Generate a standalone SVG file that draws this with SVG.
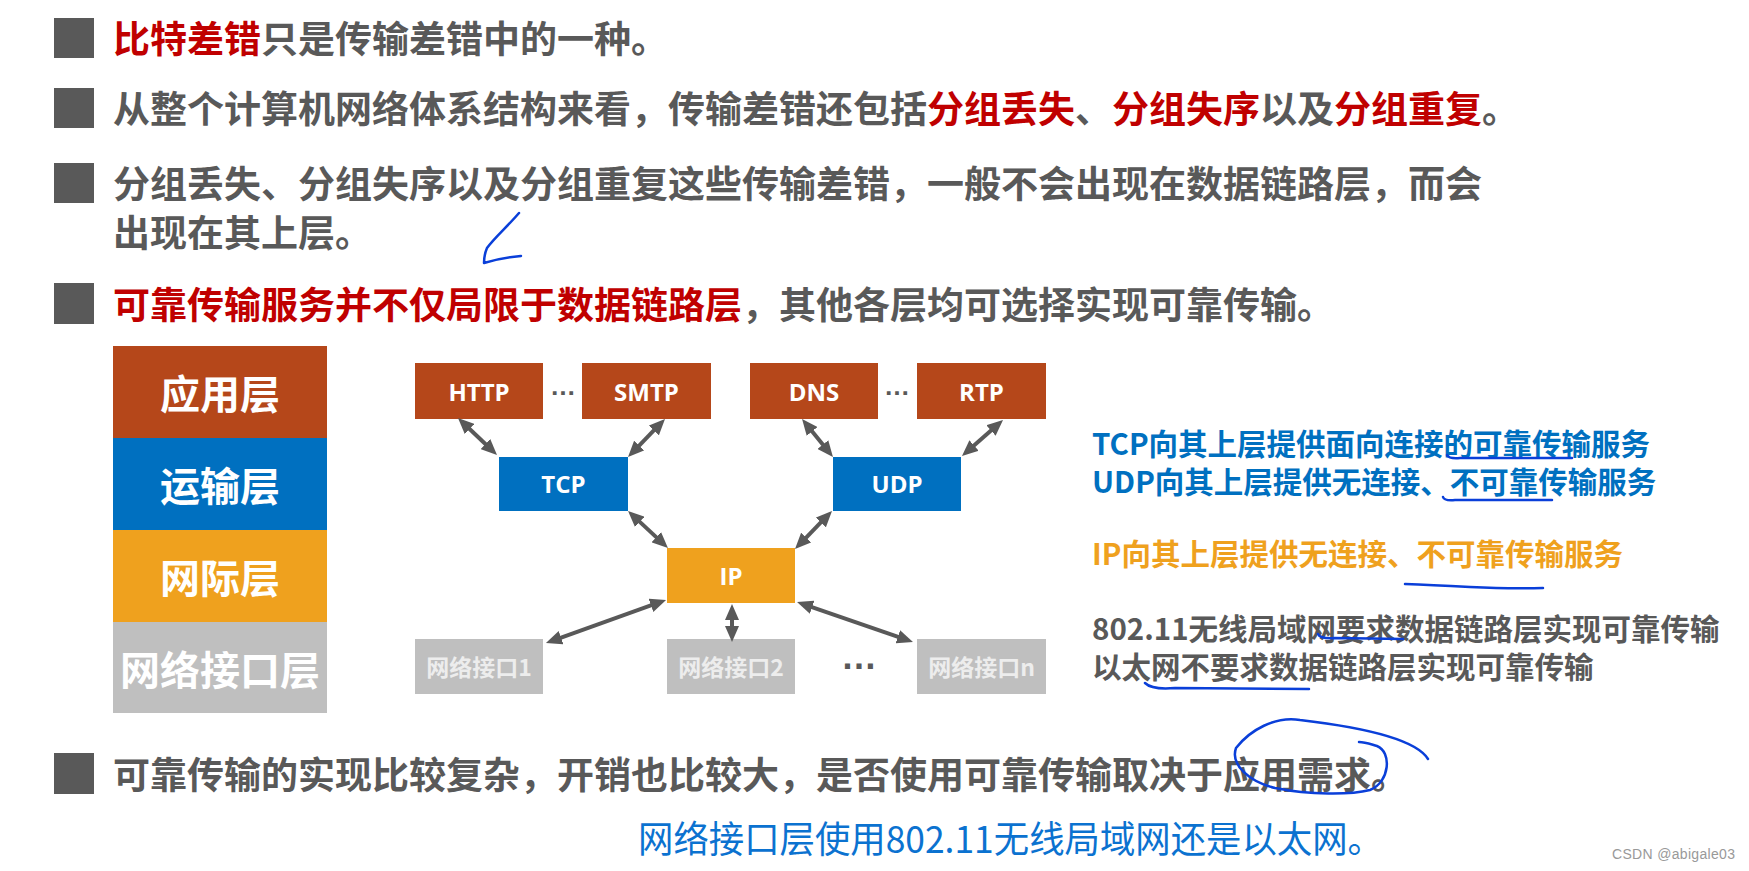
<svg xmlns="http://www.w3.org/2000/svg" width="1749" height="871" viewBox="0 0 1749 871">
  <style>
    .bullet { fill: #595959; }
    .main { font-family: "Liberation Sans", "Noto Sans CJK SC", sans-serif; font-size: 37px; font-weight: 700; fill: #595959; }
    .red { fill: #C00000; }
    .layer { font-family: "Noto Sans CJK SC", sans-serif; font-size: 40px; font-weight: 700; fill: #FFFFFF; text-anchor: middle; }
    .proto { font-family: "Open Sans", "Noto Sans", sans-serif; font-size: 24px; font-weight: 700; fill: #FFFFFF; text-anchor: middle; }
    .ifc { font-family: "Noto Sans CJK SC", sans-serif; font-size: 23px; font-weight: 700; fill: #EDEDED; text-anchor: middle; }
    .side { font-family: "Noto Sans CJK SC", sans-serif; font-size: 29.5px; font-weight: 700; }
    .dots { font-family: "Liberation Sans", sans-serif; font-weight: 700; fill: #595959; text-anchor: middle; }
    .conn line { stroke: #595959; stroke-width: 4; marker-start: url(#ah); marker-end: url(#ah); }
    .ink { fill: none; stroke: #0A3FD9; stroke-width: 2.5; stroke-linecap: round; stroke-linejoin: round; }
    .app { fill: #B5471A; }
    .tra { fill: #0070C0; }
    .net { fill: #EFA11E; }
    .nif { fill: #BFBFBF; }
  </style>
  <defs>
    <marker id="ah" viewBox="0 0 16 14" markerWidth="16" markerHeight="14" refX="8" refY="7" orient="auto-start-reverse" markerUnits="userSpaceOnUse">
      <path d="M0,0 L16,7 L0,14 z" fill="#595959"/>
    </marker>
  </defs>
  <rect width="1749" height="871" fill="#FFFFFF"/>

  <!-- bullet points -->
  <g id="bullets">
    <rect class="bullet" x="54" y="18" width="40" height="40"/>
    <rect class="bullet" x="54" y="88" width="40" height="40"/>
    <rect class="bullet" x="54" y="163" width="40" height="40"/>
    <rect class="bullet" x="54" y="283" width="40" height="41"/>
    <rect class="bullet" x="54" y="753" width="40" height="41"/>
  </g>
  <g id="text-lines">
    <text class="main" x="113" y="52.5"><tspan class="red">比特差错</tspan>只是传输差错中的一种。</text>
    <text class="main" x="113" y="123">从整个计算机网络体系结构来看，传输差错还包括<tspan class="red">分组丢失</tspan>、<tspan class="red">分组失序</tspan>以及<tspan class="red">分组重复</tspan>。</text>
    <text class="main" x="113" y="198">分组丢失、分组失序以及分组重复这些传输差错，一般不会出现在数据链路层，而会<tspan x="113" dy="48.5">出现在其上层。</tspan></text>
    <text class="main" x="113" y="319"><tspan class="red">可靠传输服务并不仅局限于数据链路层</tspan>，其他各层均可选择实现可靠传输。</text>
    <text class="main" x="113" y="788.5">可靠传输的实现比较复杂，开销也比较大，是否使用可靠传输取决于应用需求。</text>
  </g>

  <!-- layer stack -->
  <g id="layer-app"><rect class="app" x="113" y="346" width="214" height="92"/><text class="layer" x="220" y="409">应用层</text></g>
  <g id="layer-transport"><rect class="tra" x="113" y="438" width="214" height="92"/><text class="layer" x="220" y="500.5">运输层</text></g>
  <g id="layer-internet"><rect class="net" x="113" y="530" width="214" height="92"/><text class="layer" x="220" y="593">网际层</text></g>
  <g id="layer-netif"><rect class="nif" x="113" y="622" width="214" height="91"/><text class="layer" x="220" y="685" fill="#F2F2F2">网络接口层</text></g>

  <!-- protocol nodes -->
  <g id="node-http"><rect class="app" x="415" y="363" width="128" height="56"/><text class="proto" x="479" y="401">HTTP</text></g>
  <g id="node-smtp"><rect class="app" x="582" y="363" width="129" height="56"/><text class="proto" x="646.5" y="401">SMTP</text></g>
  <g id="node-dns"><rect class="app" x="750" y="363" width="128" height="56"/><text class="proto" x="814" y="401">DNS</text></g>
  <g id="node-rtp"><rect class="app" x="917" y="363" width="129" height="56"/><text class="proto" x="981.5" y="401">RTP</text></g>
  <g id="node-tcp"><rect class="tra" x="499" y="457" width="129" height="54"/><text class="proto" x="563.5" y="493">TCP</text></g>
  <g id="node-udp"><rect class="tra" x="833" y="457" width="128" height="54"/><text class="proto" x="897" y="493">UDP</text></g>
  <g id="node-ip"><rect class="net" x="667" y="548" width="128" height="55"/><text class="proto" x="731" y="585">IP</text></g>
  <g id="node-if1"><rect class="nif" x="415" y="639" width="128" height="55"/><text class="ifc" x="479" y="676">网络接口1</text></g>
  <g id="node-if2"><rect class="nif" x="667" y="639" width="128" height="55"/><text class="ifc" x="731" y="676">网络接口2</text></g>
  <g id="node-ifn"><rect class="nif" x="917" y="639" width="129" height="55"/><text class="ifc" x="981.5" y="676">网络接口n</text></g>
  <g id="ellipses">
    <text class="dots" x="563" y="395" font-size="26">…</text>
    <text class="dots" x="897" y="395" font-size="26">…</text>
    <text class="dots" x="859" y="668.5" font-size="36">…</text>
  </g>

  <!-- connectors -->
  <g id="connectors" class="conn">
    <line x1="463.8" y1="423.5" x2="491.2" y2="449.5"/>
    <line x1="659.4" y1="424.7" x2="633.6" y2="451.3"/>
    <line x1="807.1" y1="425.2" x2="827.9" y2="450.8"/>
    <line x1="997" y1="425.3" x2="968" y2="450.7"/>
    <line x1="633.9" y1="516.4" x2="662.1" y2="542.6"/>
    <line x1="826.4" y1="516.7" x2="800.6" y2="543.3"/>
    <line x1="658.5" y1="602.7" x2="553.5" y2="640.3"/>
    <line x1="732" y1="612" x2="732" y2="634"/>
    <line x1="804.6" y1="604.6" x2="905.4" y2="639.4"/>
  </g>

  <!-- side notes -->
  <g id="notes">
    <text class="side" x="1092" y="455" fill="#0070C0">TCP向其上层提供面向连接的可靠传输服务</text>
    <text class="side" x="1092" y="493" fill="#0070C0">UDP向其上层提供无连接、不可靠传输服务</text>
    <text class="side" x="1092" y="565" fill="#EFA11E">IP向其上层提供无连接、不可靠传输服务</text>
    <text class="side" x="1092" y="640" fill="#595959">802.11无线局域网要求数据链路层实现可靠传输</text>
    <text class="side" x="1092" y="678" fill="#595959">以太网不要求数据链路层实现可靠传输</text>
  </g>

  <text x="638" y="853" font-family="Noto Sans CJK SC, sans-serif" font-size="37" fill="#0B72D0" textLength="745" lengthAdjust="spacingAndGlyphs">网络接口层使用802.11无线局域网还是以太网。</text>
  <text x="1612" y="859" font-family="Liberation Sans, sans-serif" font-size="14" fill="#999999" textLength="123">CSDN @abigale03</text>

  <!-- handwritten annotations -->
  <g id="annotations">
    <path class="ink" d="M519,213 C508,226 494,238 487,248 Q484,255 484,263 Q500,258 521,256"/>
    <path class="ink" d="M1447,455 Q1449,459 1460,458 L1572,458"/>
    <path class="ink" d="M1443,497 Q1444,501 1455,500 L1552,500"/>
    <path class="ink" d="M1405,584 Q1430,585 1470,587 T1543,588"/>
    <path class="ink" d="M1318,634 Q1320,639 1335,638 L1403,639"/>
    <path class="ink" d="M1145,683 Q1152,690 1175,688 L1309,689"/>
    <path class="ink" d="M1428,759 C1415,738 1360,727 1300,720 C1275,716 1250,730 1236,748 C1230,765 1250,782 1275,788 C1310,795 1350,795 1370,790 C1390,782 1392,752 1377,746 C1370,744 1365,742 1359,742"/>
  </g>
</svg>
